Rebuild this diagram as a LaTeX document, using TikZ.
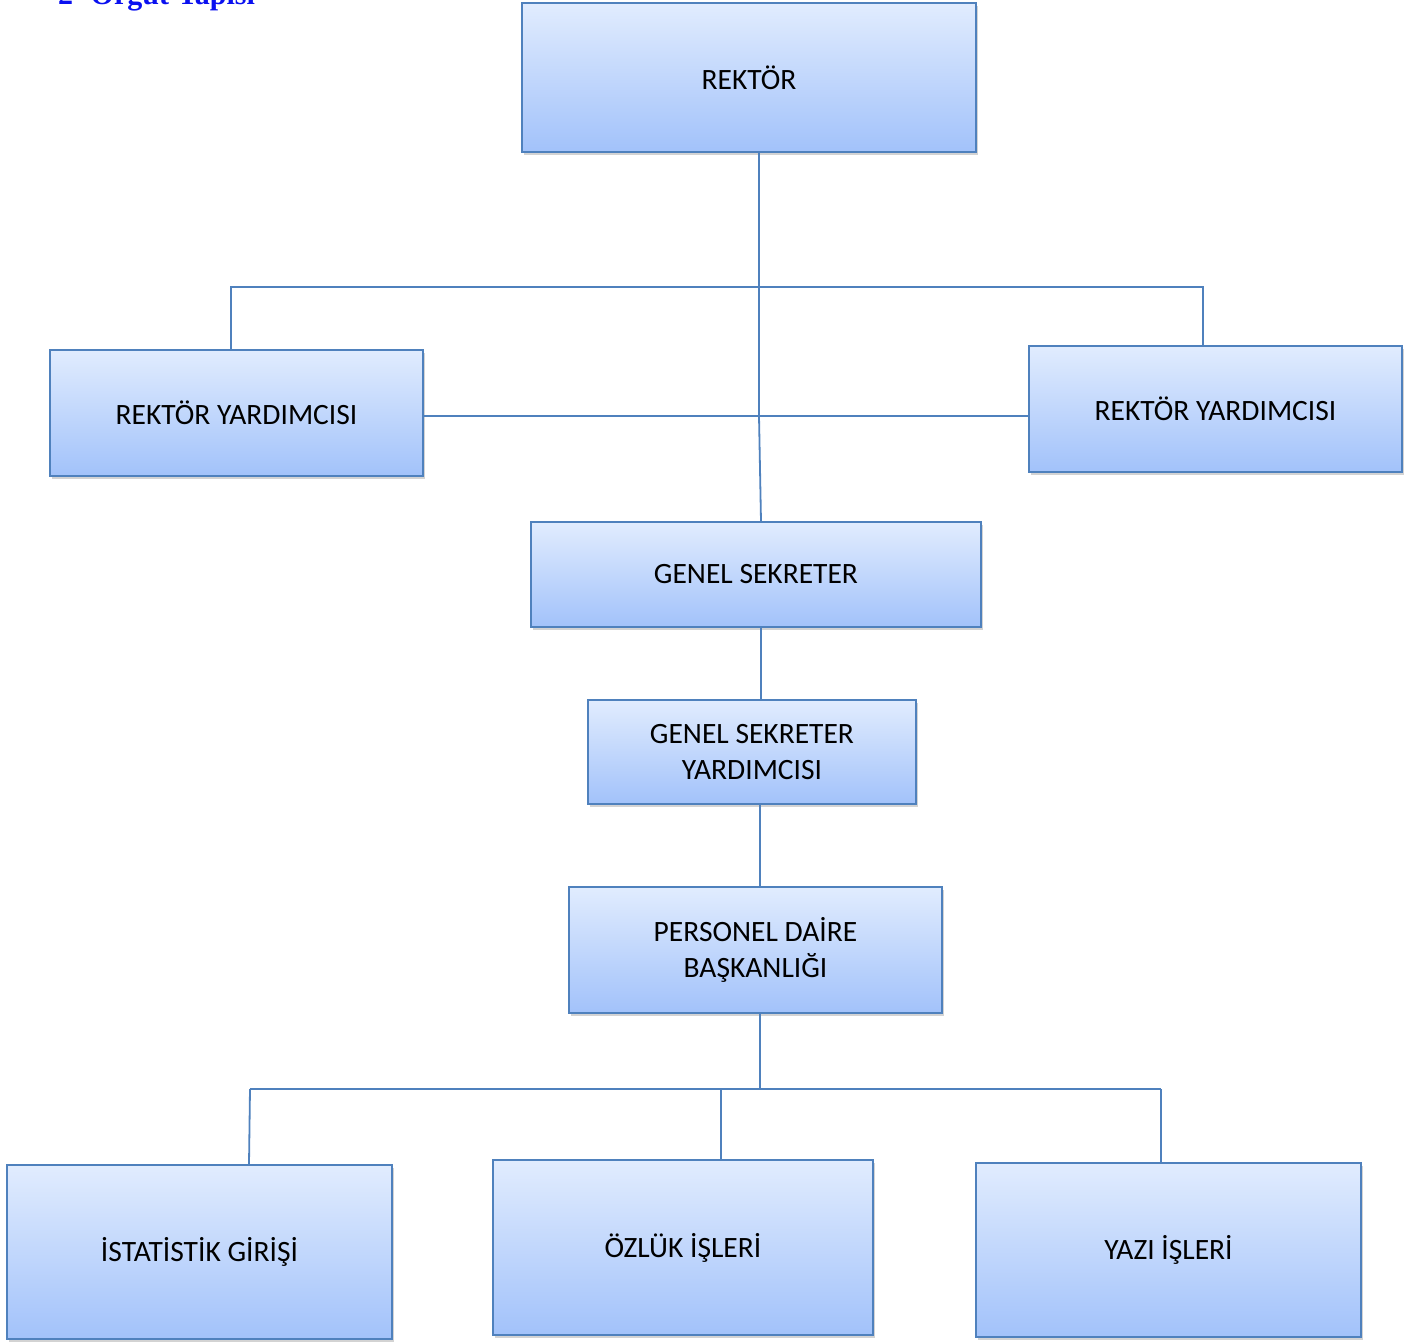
\documentclass[tikz,border=0pt]{standalone}
\usepackage{fontspec}
\setmainfont{Carlito}
\newfontfamily\headfont{Liberation Serif}
\usetikzlibrary{shadows}
\definecolor{boxline}{HTML}{4F81BD}
\definecolor{boxtop}{HTML}{E1ECFE}
\definecolor{boxbot}{HTML}{A2C2FA}
\definecolor{headblue}{HTML}{0A10F0}
\tikzset{
  unit/.style={draw=boxline, line width=1.6pt, top color=boxtop, bottom color=boxbot,
    align=center, inner sep=0pt, font=\fontsize{29.5}{36}\selectfont,
    drop shadow={opacity=0.35, shadow xshift=2pt, shadow yshift=-3pt}},
  link/.style={draw=boxline, line width=1.8pt}
}
\begin{document}
\begin{tikzpicture}[x=1pt,y=-1pt]
  \useasboundingbox (0,0) rectangle (1422,1343);
  % heading, cut off at the top of the page
  \node[anchor=base west, text=headblue, font=\headfont\bfseries\fontsize{30}{36}\selectfont, inner sep=0pt]
    (head) at (58,5) {2- Örgüt Yapısı};
  % boxes
  \node[unit, minimum width=454, minimum height=149] (rek)  at (749,77.5) {REKTÖR};
  \node[unit, minimum width=373, minimum height=126] (ryl)  at (236.5,413) {REKTÖR YARDIMCISI};
  \node[unit, minimum width=373, minimum height=126] (ryr)  at (1215.5,409) {REKTÖR YARDIMCISI};
  \node[unit, minimum width=450, minimum height=105] (gs)   at (756,574.5) {GENEL SEKRETER};
  \node[unit, minimum width=328, minimum height=104] (gsy)  at (752,752) {GENEL SEKRETER\\YARDIMCISI};
  \node[unit, minimum width=373, minimum height=126] (pdb)  at (755.5,950) {PERSONEL DAİRE\\BAŞKANLIĞI};
  \node[unit, minimum width=385, minimum height=174] (ist)  at (199.5,1252) {İSTATİSTİK GİRİŞİ};
  \node[unit, minimum width=380, minimum height=175] (ozl)  at (683,1247.5) {ÖZLÜK İŞLERİ};
  \node[unit, minimum width=385, minimum height=174] (yaz)  at (1168.5,1250) {YAZI İŞLERİ};
  % junctions
  \coordinate (top) at (759,287);
  \coordinate (mid) at (759,416);
  \coordinate (low) at (760,1089);
  \coordinate (lowl) at (250,1089);
  \coordinate (lowm) at (721,1089);
  \coordinate (lowr) at (1161,1089);
  % connectors
  \path[link] (rek.south -| top) -- (top) -- (mid) -- (761,0 |- gs.north);
  \path[link] (ryl.north -| 231,0) |- (1203,287) -- (ryr.north -| 1203,0);
  \path[link] (ryl.east |- mid) -- (ryr.west |- mid);
  \path[link] (gs.south -| 761,0) -- (gsy.north -| 761,0);
  \path[link] (gsy.south -| 760,0) -- (pdb.north -| 760,0);
  \path[link] (pdb.south -| low) -- (low);
  \path[link] (lowl) -- (lowr);
  \path[link] (lowl) -- (ist.north -| 249,0);
  \path[link] (lowm) -- (ozl.north -| lowm);
  \path[link] (lowr) -- (yaz.north -| lowr);
\end{tikzpicture}
\end{document}
